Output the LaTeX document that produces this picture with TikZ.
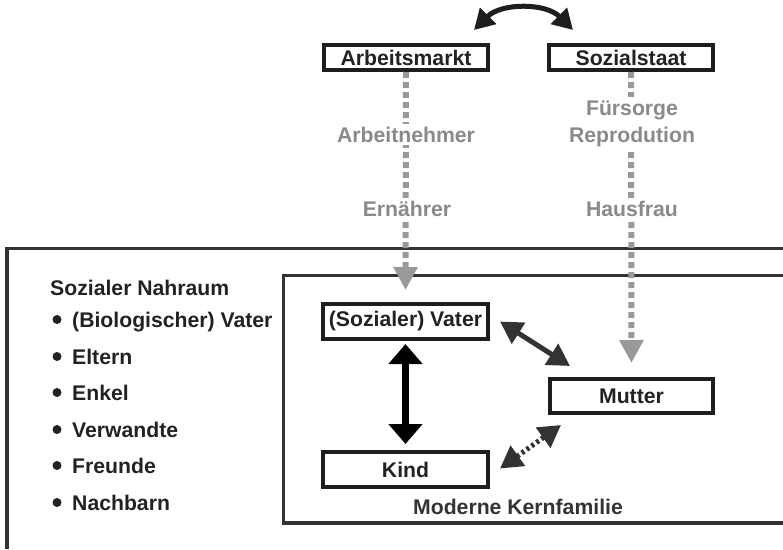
\documentclass[tikz,border=0pt]{standalone}
\usepackage{fontspec}
\setmainfont{Liberation Sans}
\usetikzlibrary{arrows.meta,calc}
\definecolor{boxc}{HTML}{1E1E1E}
\definecolor{framec}{HTML}{333333}
\definecolor{txt}{HTML}{222222}
\definecolor{lbl}{HTML}{8A8A8A}
\definecolor{garrow}{HTML}{999999}
\begin{document}
\begin{tikzpicture}[x=1pt,y=-1pt,
  every node/.style={font=\fontsize{21.2}{27}\selectfont\bfseries},
  box/.style={draw=boxc,line width=4pt,fill=white,inner sep=0pt,text=txt,minimum width=165pt,minimum height=35pt},
  topbox/.style={box,minimum width=164pt,minimum height=25pt},
  lab/.style={text=lbl,fill=white,inner sep=3pt,align=center},
  frame/.style={draw=framec,line width=3.5pt},
  grayarrow/.style={draw=garrow,line width=6pt,dash pattern=on 6pt off 4pt,-{Triangle[length=23pt,width=23pt]}},
  darkarrow/.style={draw=framec,line width=5pt,{Triangle[length=22pt,width=24pt]}-{Triangle[length=22pt,width=24pt]}},
  listtxt/.style={anchor=base west,text=txt,inner sep=0pt}]
\useasboundingbox (0,0) rectangle (783,549);
% frames
\draw[frame] (783,248.5) -- (7,248.5) -- (7,549);
\draw[frame] (783,275.5) -- (283.5,275.5) -- (283.5,523) -- (783,523);
% boxes
\node[topbox] (arb) at (406,57.5) {Arbeitsmarkt};
\node[topbox] (soz) at (631,57.5) {Sozialstaat};
\node[box] (vater) at (405.5,321.5) {(Sozialer) Vater};
\node[box] (kind) at (405.5,469.5) {Kind};
\node[box,minimum width=163pt,minimum height=34pt] (mutter) at (631.5,396) {Mutter};
% gray arrows
\draw[grayarrow,shorten >=12pt] (arb.south) -- (vater.north);
\draw[grayarrow,shorten >=14pt] (soz.south) -- (mutter.north);
\node[lab,anchor=base] (an) at (406,142) {Arbeitnehmer};
\node[lab,anchor=base] (er) at (407,216) {Ernährer};
\node[lab,anchor=base] (fu) at (632,142) {Fürsorge\\Reprodution};
\node[lab,anchor=base] (hf) at (632,216) {Hausfrau};
% black arrows
\draw[draw=black,line width=7pt,{Triangle[length=20pt,width=33pt]}-{Triangle[length=20pt,width=33pt]},shorten <=3pt,shorten >=6pt] (vater.south) -- (kind.north);
\draw[darkarrow] ($(vater.east)+(10,0)$) -- ($(mutter.north west)+(22,-11)$);
\draw[darkarrow,dash pattern=on 3pt off 3pt] ($(kind.east)+(10,-1)$) -- ($(mutter.south west)+(13,10)$);
\draw[draw=boxc,line width=5pt,{Triangle[length=20pt,width=22pt]}-{Triangle[length=20pt,width=22pt]}] ($(arb.north east)+(-16,-13)$) to[out=45,in=135] ($(soz.north west)+(26,-13)$);
% labels
\node[anchor=base,text=framec,inner sep=0pt] (mk) at (518,514) {Moderne Kernfamilie};
\node[listtxt] (snr) at (50,295) {Sozialer Nahraum};
\foreach \n/\t/\yy in {b1/(Biologischer) Vater/327,b2/Eltern/364,b3/Enkel/400,b4/Verwandte/437,b5/Freunde/473,b6/Nachbarn/510}{
  \node[listtxt] (\n) at (72,\yy) {\t};
  \fill[txt] (57,\yy-7.5) circle (4.5pt);
}
\end{tikzpicture}
\end{document}
